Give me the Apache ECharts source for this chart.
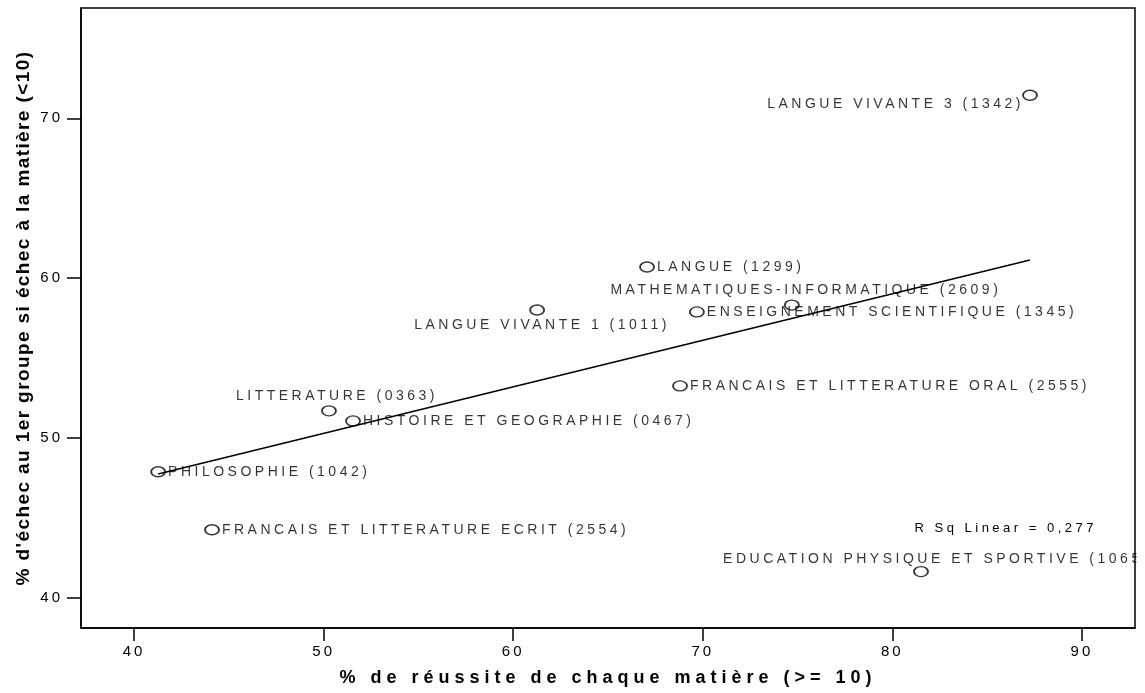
<!DOCTYPE html>
<html>
<head>
<meta charset="utf-8">
<title>Réussite et échec par matière</title>
<script src="https://cdn.jsdelivr.net/npm/echarts@6/dist/echarts.min.js"></script>
<style>
  html, body { margin: 0; padding: 0; background: #fff; }
  #chart { width: 1145px; height: 693px; }
</style>
</head>
<body>
<div id="chart"></div>
<script>
// valeurs
const matieres = [
  'LANGUE VIVANTE 3 (1342)',
  'LANGUE (1299)',
  'MATHEMATIQUES-INFORMATIQUE (2609)',
  'LANGUE VIVANTE 1 (1011)',
  'ENSEIGNEMENT SCIENTIFIQUE (1345)',
  'FRANCAIS ET LITTERATURE ORAL (2555)',
  'LITTERATURE (0363)',
  'HISTOIRE ET GEOGRAPHIE (0467)',
  'PHILOSOPHIE (1042)',
  'FRANCAIS ET LITTERATURE ECRIT (2554)',
  'EDUCATION PHYSIQUE ET SPORTIVE (1065)'
];
const reussite = [87.26, 67.06, 74.70, 61.26, 69.69, 68.80, 50.28, 51.55, 41.27, 44.11, 81.51];
const echec    = [71.44, 60.69, 58.31, 58.00, 57.88, 53.25, 51.69, 51.06, 47.88, 44.25, 41.63];
const ticksX = [40, 50, 60, 70, 80, 90];
const ticksY = [40, 50, 60, 70];
const rSqText = 'R Sq Linear = 0,277';

// placement des etiquettes
const labelPos = ['left', 'right', 'top', 'bottom', 'right', 'right', 'top', 'right', 'right', 'right', 'top'];
const labelOffset = [[4, 9], [0, 0], [14, 0], [5, 0], [0, 0], [0, 0], [8, 0], [0, 0], [0, 0], [0, 0], [16, 2]];

// espacement des lettres (le rendu SPSS est tres espace), par taille de police
const SPACING = { 13: 3.5, 14: 3.5, 15: 3, 18: 5, 19: 1.4 };
const baseFillText = CanvasRenderingContext2D.prototype.fillText;
CanvasRenderingContext2D.prototype.fillText = function (t, x, y, w) {
  const m = /(\d+)px/.exec(this.font);
  this.letterSpacing = ((m && SPACING[m[1]]) || 0) + 'px';
  return w === undefined ? baseFillText.call(this, t, x, y) : baseFillText.call(this, t, x, y, w);
};

// droite de regression
const n = reussite.length;
const mx = reussite.reduce((a, b) => a + b, 0) / n;
const my = echec.reduce((a, b) => a + b, 0) / n;
let sxy = 0, sxx = 0;
for (let i = 0; i < n; i++) {
  sxy += (reussite[i] - mx) * (echec[i] - my);
  sxx += (reussite[i] - mx) * (reussite[i] - mx);
}
const slope = sxy / sxx;
const icpt = my - slope * mx;
const xLo = Math.min(...reussite), xHi = Math.max(...reussite);

const font = 'Liberation Sans';
const chart = echarts.init(document.getElementById('chart'));
chart.setOption({
  animation: false,
  backgroundColor: '#fff',
  grid: { left: 81, top: 8, right: 10, bottom: 65, show: true, borderColor: '#000', borderWidth: 1.5 },
  xAxis: {
    type: 'value', min: 37.2, max: 92.8,
    name: '% de réussite de chaque matière (>= 10)',
    nameLocation: 'middle', nameGap: 41,
    nameTextStyle: { fontFamily: font, fontSize: 18, fontWeight: 'bold', color: '#000' },
    axisLine: { show: true, lineStyle: { color: '#000', width: 1.5 } },
    axisTick: { show: true, length: 13, customValues: ticksX, lineStyle: { color: '#000', width: 1.5 } },
    axisLabel: { customValues: ticksX, margin: 16, fontFamily: font, fontSize: 15, color: '#000' },
    splitLine: { show: false }
  },
  yAxis: {
    type: 'value', min: 38.1, max: 76.9,
    name: "% d'échec au 1er groupe si échec à la matière (<10)",
    nameLocation: 'middle', nameGap: 48,
    nameTextStyle: { fontFamily: font, fontSize: 19, fontWeight: 'bold', color: '#000' },
    axisLine: { show: true, lineStyle: { color: '#000', width: 1.5 } },
    axisTick: { show: true, length: 14, customValues: ticksY, lineStyle: { color: '#000', width: 1.5 } },
    axisLabel: { customValues: ticksY, margin: 18, fontFamily: font, fontSize: 15, color: '#000' },
    splitLine: { show: false }
  },
  graphic: [
    {
      type: 'text', x: 1097, y: 528, z: 50,
      style: { text: rSqText, textAlign: 'right', textVerticalAlign: 'middle', font: '13px "Liberation Sans"', fill: '#000' }
    },
    {
      type: 'rect', z: 100, silent: true,
      shape: { x: 1136.5, y: 0, width: 9, height: 693 },
      style: { fill: '#fff' }
    }
  ],
  series: [
    {
      type: 'line',
      data: [[xLo, icpt + slope * xLo], [xHi, icpt + slope * xHi]],
      showSymbol: false, silent: true,
      lineStyle: { color: '#000', width: 1.5 },
      z: 3
    },
    {
      type: 'scatter',
      symbol: 'circle',
      symbolSize: [14, 10],
      itemStyle: { color: 'transparent', borderColor: '#000', borderWidth: 1.6 },
      label: { show: true, formatter: '{b}', distance: 2, fontFamily: font, fontSize: 14, color: '#000' },
      emphasis: { disabled: true },
      data: matieres.map((m, i) => ({
        name: m,
        value: [reussite[i], echec[i]],
        label: { position: labelPos[i], offset: labelOffset[i] }
      })),
      z: 2
    }
  ]
});
</script>
</body>
</html>
